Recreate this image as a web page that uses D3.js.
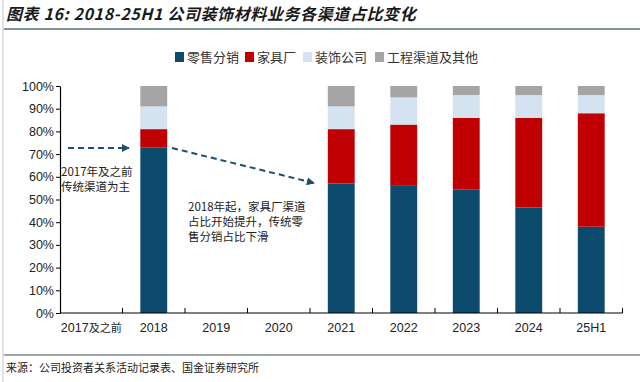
<!DOCTYPE html>
<html>
<head>
<meta charset="utf-8">
<script src="https://cdn.jsdelivr.net/npm/d3@7"></script>
<style>
  body { margin: 0; background: #fff; }
  svg { display: block; }
</style>
</head>
<body>
<div id="chart"></div>
<script>
const categories = ["2017及之前", "2018", "2019", "2020", "2021", "2022", "2023", "2024", "25H1"];
const seriesNames = ["零售分销", "家具厂", "装饰公司", "工程渠道及其他"];
const retail = [0, 73, 0, 0, 57, 56, 54.5, 46.5, 38];
const furniture = [0, 8, 0, 0, 24, 27, 31.5, 39.5, 50];
const decor = [0, 10, 0, 0, 10, 12, 10, 10, 8];
const others = [0, 9, 0, 0, 9, 5, 4, 4, 4];
const yTicks = [0, 10, 20, 30, 40, 50, 60, 70, 80, 90, 100];
const colors = ["#0c4a6e", "#c00000", "#d5e3f1", "#a5a5a5"];

const W = 640, H = 382;
const svg = d3.select("#chart").append("svg")
    .attr("width", W)
    .attr("height", H);

// frame lines
svg.append("line").attr("x1", 3).attr("x2", 3).attr("y1", 0).attr("y2", H)
    .attr("stroke", "#e2e2e2").attr("stroke-width", 2);
svg.append("line").attr("x1", 4).attr("x2", W).attr("y1", 29).attr("y2", 29)
    .attr("stroke", "#7d9696").attr("stroke-width", 2);
svg.append("line").attr("x1", 4).attr("x2", W).attr("y1", 355).attr("y2", 355)
    .attr("stroke", "#3d4f55").attr("stroke-width", 1);

// title
svg.append("text")
    .attr("x", 6).attr("y", 20)
    .attr("font-family", "Noto Sans CJK SC")
    .attr("font-size", 16)
    .attr("font-weight", "bold")
    .attr("font-style", "italic")
    .attr("letter-spacing", 0.6)
    .attr("fill", "#1a1a1a")
    .text("图表 16: 2018-25H1 公司装饰材料业务各渠道占比变化");

// source
svg.append("text")
    .attr("x", 6).attr("y", 372)
    .attr("font-family", "Noto Sans CJK SC")
    .attr("font-size", 11)
    .attr("fill", "#222")
    .text("来源：公司投资者关系活动记录表、国金证券研究所");

const x = d3.scaleBand()
    .domain(categories)
    .range([60, 622.5])
    .paddingInner(0.57)
    .paddingOuter(0.285);

const y = d3.scaleLinear()
    .domain([0, 100])
    .range([313, 86]);

const rows = categories.map((c, i) => ({
    cat: c,
    "零售分销": retail[i],
    "家具厂": furniture[i],
    "装饰公司": decor[i],
    "工程渠道及其他": others[i]
}));
const stack = d3.stack().keys(seriesNames)(rows);

svg.append("g")
    .selectAll("g")
    .data(stack)
    .join("g")
    .attr("fill", (d, i) => colors[i])
    .selectAll("rect")
    .data(d => d)
    .join("rect")
    .attr("x", d => x(d.data.cat))
    .attr("width", x.bandwidth())
    .attr("y", d => y(d[1]))
    .attr("height", d => y(d[0]) - y(d[1]));

// y axis
const yAxis = svg.append("g")
    .attr("transform", "translate(60,0)")
    .call(d3.axisLeft(y).tickValues(yTicks).tickFormat(d => d + "%").tickSize(4).tickSizeOuter(0));
yAxis.select(".domain").attr("stroke", "#000").attr("stroke-width", 1.2);
yAxis.selectAll("text")
    .attr("font-family", "Liberation Sans, Arial, sans-serif")
    .attr("font-size", 12.5)
    .attr("fill", "#222")
    .attr("x", -6);

// x axis, ticks at category boundaries pointing up
const step = x.step();
const boundary = d => x(d) + x.bandwidth() + (step - x.bandwidth()) / 2;
const xAxisG = svg.append("g");
xAxisG.append("line")
    .attr("x1", 60).attr("x2", 622.5)
    .attr("y1", 313).attr("y2", 313)
    .attr("stroke", "#000").attr("stroke-width", 1.2);
xAxisG.selectAll(".tk")
    .data(categories)
    .join("line")
    .attr("class", "tk")
    .attr("x1", boundary)
    .attr("x2", boundary)
    .attr("y1", 313).attr("y2", 308)
    .attr("stroke", "#000");
xAxisG.selectAll(".lbl")
    .data(categories)
    .join("text")
    .attr("class", "lbl")
    .attr("x", d => x(d) + x.bandwidth() / 2)
    .attr("y", 332)
    .attr("text-anchor", "middle")
    .attr("font-family", "Liberation Sans, Arial, sans-serif")
    .attr("font-size", 12.5)
    .attr("fill", "#222")
    .each(function (d) {
        const t = d3.select(this);
        const m = d.match(/^(\d+)(.*)$/);
        if (m && m[2] && !/^H/.test(m[2])) {
            t.append("tspan").text(m[1]);
            t.append("tspan").attr("font-family", "Noto Sans CJK SC").attr("font-size", 11).text(m[2]);
        } else {
            t.text(d);
        }
    });

// legend
const legendX = [175, 245, 303, 375];
const legend = svg.append("g");
seriesNames.forEach((name, i) => {
    legend.append("rect")
        .attr("x", legendX[i]).attr("y", 52)
        .attr("width", 9).attr("height", 10)
        .attr("fill", colors[i]);
    legend.append("text")
        .attr("x", legendX[i] + 12).attr("y", 62)
        .attr("font-family", "Noto Sans CJK SC")
        .attr("font-size", 13)
        .attr("fill", "#333")
        .text(name);
});

// annotations
const defs = svg.append("defs");
defs.append("marker")
    .attr("id", "arr")
    .attr("viewBox", "0 0 10 10")
    .attr("refX", 9).attr("refY", 5)
    .attr("markerWidth", 4).attr("markerHeight", 4)
    .attr("orient", "auto")
    .append("path")
    .attr("d", "M0,0L10,5L0,10z")
    .attr("fill", "#1b4f6e");

svg.append("line")
    .attr("x1", 68).attr("y1", 148).attr("x2", 129).attr("y2", 148)
    .attr("stroke", "#1b4f6e").attr("stroke-width", 2)
    .attr("stroke-dasharray", "6,4")
    .attr("marker-end", "url(#arr)");
svg.append("line")
    .attr("x1", 172).attr("y1", 148).attr("x2", 314).attr("y2", 183)
    .attr("stroke", "#1b4f6e").attr("stroke-width", 2)
    .attr("stroke-dasharray", "6,4")
    .attr("marker-end", "url(#arr)");

const note1 = ["2017年及之前", "传统渠道为主"];
svg.append("g").selectAll("text")
    .data(note1)
    .join("text")
    .attr("font-family", "Noto Sans CJK SC")
    .attr("font-size", 11.5)
    .attr("fill", "#222")
    .attr("x", 61)
    .attr("y", (d, i) => 176 + i * 15)
    .text(d => d);

const note2 = ["2018年起，家具厂渠道", "占比开始提升，传统零", "售分销占比下滑"];
svg.append("g").selectAll("text")
    .data(note2)
    .join("text")
    .attr("font-family", "Noto Sans CJK SC")
    .attr("font-size", 11.5)
    .attr("fill", "#222")
    .attr("x", 188)
    .attr("y", (d, i) => 211 + i * 15)
    .text(d => d);
</script>
</body>
</html>
